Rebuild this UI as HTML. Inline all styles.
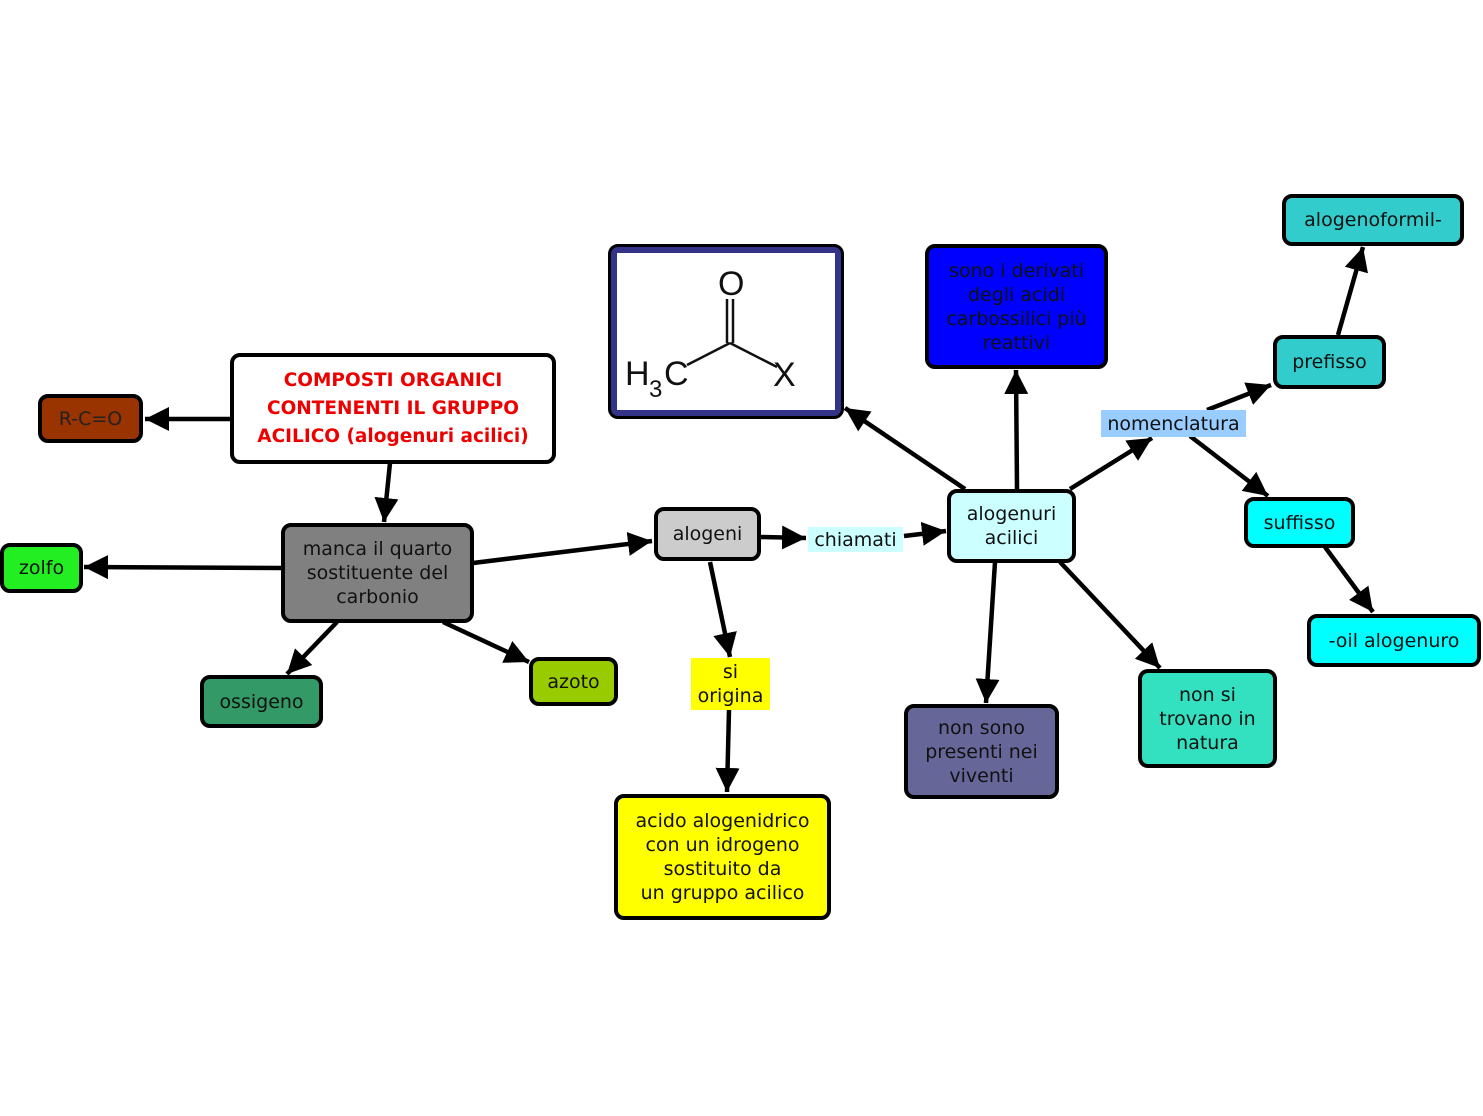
<!DOCTYPE html>
<html><head><meta charset="utf-8"><style>
body{margin:0;width:1483px;height:1116px;background:#fff;position:relative;overflow:hidden;font-family:"DejaVu Sans","Liberation Sans",sans-serif;}
.b{position:absolute;box-sizing:border-box;border:4px solid #000;border-radius:10px;display:flex;align-items:center;justify-content:center;text-align:center;font-size:19px;line-height:24px;color:#111;}
.l{position:absolute;box-sizing:border-box;display:flex;align-items:center;justify-content:center;text-align:center;font-size:19px;line-height:24px;color:#111;}
svg{position:absolute;left:0;top:0;}
</style></head><body>
<svg width="1483" height="1116">
<defs><marker id="a" markerWidth="26" markerHeight="26" refX="24" refY="13" orient="auto" markerUnits="userSpaceOnUse"><path d="M0,1 L24,13 L0,25 z" fill="#000"/></marker></defs>
<g stroke="#000" stroke-width="4.5" marker-end="url(#a)">
<line x1="230" y1="419" x2="145" y2="419"/>
<line x1="390" y1="463" x2="384" y2="522"/>
<line x1="281" y1="568" x2="84" y2="567"/>
<line x1="337" y1="622" x2="287" y2="674"/>
<line x1="443" y1="622" x2="529" y2="662"/>
<line x1="473" y1="563" x2="652" y2="541"/>
<line x1="760" y1="537" x2="806" y2="538"/>
<line x1="904" y1="536" x2="946" y2="531"/>
<line x1="710" y1="562" x2="730" y2="657"/>
<line x1="729" y1="710" x2="727" y2="792"/>
<line x1="965" y1="489" x2="845" y2="408"/>
<line x1="1017" y1="489" x2="1016" y2="370"/>
<line x1="1070" y1="489" x2="1152" y2="438"/>
<line x1="1207" y1="410" x2="1271" y2="385"/>
<line x1="1338" y1="335" x2="1363" y2="247"/>
<line x1="1190" y1="436" x2="1268" y2="496"/>
<line x1="1325" y1="547" x2="1373" y2="612"/>
<line x1="995" y1="562" x2="986" y2="703"/>
<line x1="1060" y1="562" x2="1160" y2="668"/>
</g>
</svg>
<div class="b" style="left:38px;top:394px;width:105px;height:49px;background:#993300;color:#222;">R-C=O</div>
<div class="b" style="left:230px;top:353px;width:326px;height:111px;background:#fff;color:#ee0000;font-weight:bold;font-size:18.5px;line-height:28px;">COMPOSTI ORGANICI<br>CONTENENTI IL GRUPPO<br>ACILICO (alogenuri acilici)</div>
<div class="b" style="left:0;top:543px;width:83px;height:50px;background:#22ee22;">zolfo</div>
<div class="b" style="left:281px;top:523px;width:193px;height:100px;background:#808080;">manca il quarto<br>sostituente del<br>carbonio</div>
<div class="b" style="left:200px;top:675px;width:123px;height:53px;background:#339966;">ossigeno</div>
<div class="b" style="left:529px;top:657px;width:89px;height:49px;background:#99cc00;">azoto</div>
<div class="b" style="left:654px;top:507px;width:107px;height:54px;background:#cccccc;">alogeni</div>
<div class="l" style="left:808px;top:527px;width:95px;height:25px;background:#ccffff;">chiamati</div>
<div class="b" style="left:947px;top:489px;width:129px;height:74px;background:#ccffff;">alogenuri<br>acilici</div>
<div class="l" style="left:691px;top:658px;width:79px;height:52px;background:#ffff00;">si<br>origina</div>
<div class="b" style="left:614px;top:794px;width:217px;height:126px;background:#ffff00;">acido alogenidrico<br>con un idrogeno<br>sostituito da<br>un gruppo acilico</div>
<div style="position:absolute;left:608px;top:244px;width:236px;height:175px;box-sizing:border-box;border:3px solid #000;border-radius:10px;background:#333388;">
<div style="position:absolute;left:6px;top:6px;right:6px;bottom:6px;background:#fff;"></div>
<svg width="230" height="170" style="left:0;top:0">
<g stroke="#111" stroke-width="2.5" fill="none"><line x1="76" y1="118" x2="119" y2="96"/><line x1="119" y1="96" x2="166" y2="120"/><line x1="116" y1="96" x2="116" y2="52"/><line x1="122" y1="96" x2="122" y2="52"/></g>
<text x="107" y="48" font-family="Liberation Sans" font-size="34" fill="#111">O</text>
<text x="162" y="139" font-family="Liberation Sans" font-size="34" fill="#111">X</text>
<text x="14" y="138" font-family="Liberation Sans" font-size="34" fill="#111">H</text>
<text x="38" y="150" font-family="Liberation Sans" font-size="24" fill="#111">3</text>
<text x="53" y="138" font-family="Liberation Sans" font-size="34" fill="#111">C</text>
</svg></div>
<div class="b" style="left:925px;top:244px;width:183px;height:125px;background:#0000ff;color:#111;">sono i derivati<br>degli acidi<br>carbossilici più<br>reattivi</div>
<div class="l" style="left:1101px;top:410px;width:145px;height:27px;background:#99ccff;">nomenclatura</div>
<div class="b" style="left:1273px;top:335px;width:113px;height:54px;background:#33cccc;">prefisso</div>
<div class="b" style="left:1282px;top:194px;width:182px;height:52px;background:#33cccc;">alogenoformil-</div>
<div class="b" style="left:1244px;top:497px;width:111px;height:51px;background:#00ffff;">suffisso</div>
<div class="b" style="left:1307px;top:614px;width:174px;height:53px;background:#00ffff;">-oil alogenuro</div>
<div class="b" style="left:1138px;top:669px;width:139px;height:99px;background:#33e0c0;">non si<br>trovano in<br>natura</div>
<div class="b" style="left:904px;top:704px;width:155px;height:95px;background:#666699;">non sono<br>presenti nei<br>viventi</div>
</body></html>
